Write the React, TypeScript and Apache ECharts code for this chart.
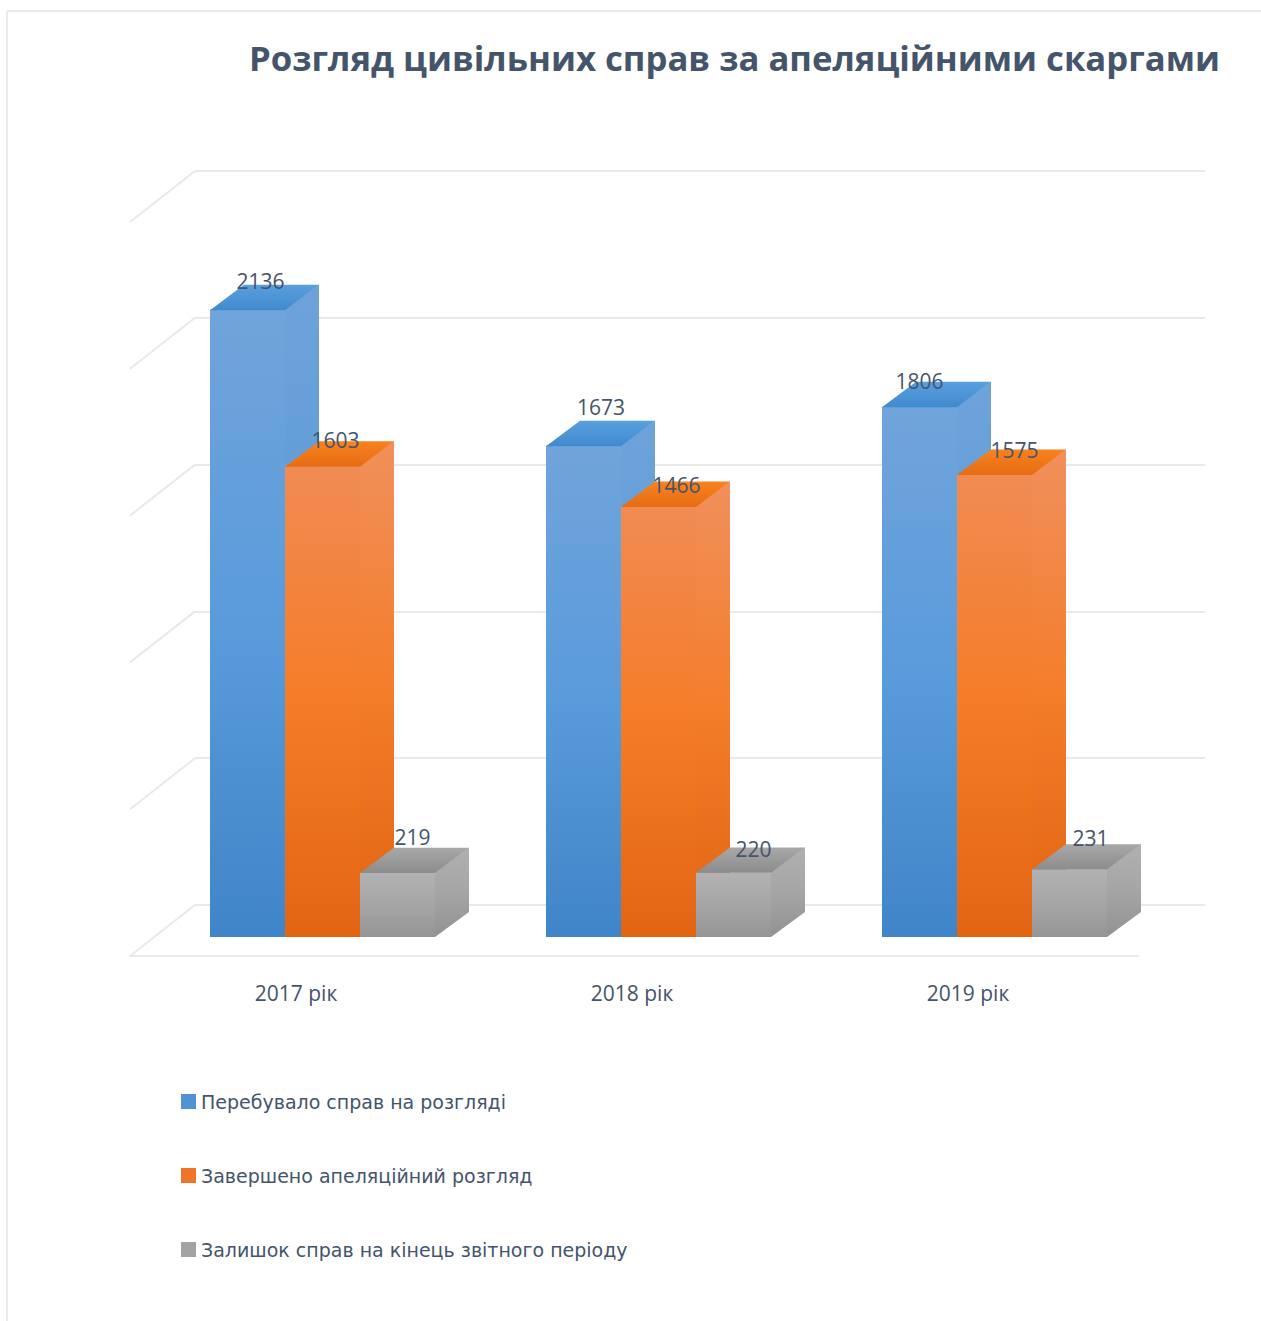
import React, { useEffect, useRef } from "react";
import * as echarts from "echarts";

const titleText = "Розгляд цивільних справ за апеляційними скаргами";
const categories = ["2017 рік", "2018 рік", "2019 рік"];
const pendingName = "Перебувало справ на розгляді";
const finishedName = "Завершено апеляційний розгляд";
const remainderName = "Залишок справ на кінець звітного періоду";
const pendingValues = [2136, 1673, 1806];
const finishedValues = [1603, 1466, 1575];
const remainderValues = [219, 220, 231];
const wallTicks = [0, 500, 1000, 1500, 2000, 2500];

const TEXT = "#44546a";
const FONT = "'Open Sans', sans-serif";
const GRID_LINE = "#e9e9e9";
const BAR_W = 75;
const DEPTH_X = 34;
const DEPTH_Y = 25;
const BASE_SHIFT_X = 24.5;
const BASE_SHIFT_Y = -19;
const SEAM = 0.4;

const grad = (stops: string[]) =>
  new echarts.graphic.LinearGradient(
    0, 0, 0, 1,
    stops.map((color, i) => ({ offset: i / (stops.length - 1), color }))
  );

type Look = { front: string[]; side: string[]; top: string[]; legend: string };
const blueLook: Look = {
  front: ["#70a4da", "#5a9bdc", "#4085c8"],
  side: ["#6ea3d9", "#5a9ada", "#3f83c5"],
  top: ["#5a9fde", "#3f8ace"],
  legend: "#4f93d6",
};
const orangeLook: Look = {
  front: ["#f08b54", "#f57c27", "#e26513"],
  side: ["#f0905c", "#f47d2a", "#df6412"],
  top: ["#f88220", "#e66c12"],
  legend: "#f07427",
};
const grayLook: Look = {
  front: ["#b2b2b2", "#a6a6a6", "#959595"],
  side: ["#b0b0b0", "#a5a5a5", "#929292"],
  top: ["#a8a8a8", "#8c8c8c"],
  legend: "#a3a3a3",
};

// hand-placed label nudges from the top-front edge of each bar: [dx, dy] per category
const pendingNudge = [[13, -29], [17.5, -39], [0, -26]];
const finishedNudge = [[13, -26], [18, -22], [20, -25]];
const remainderNudge = [[15, -36], [20, -23], [21, -31]];

const barSeries = (
  name: string,
  values: number[],
  slot: number,
  look: Look,
  nudge: number[][]
) => ({
  type: "custom",
  name,
  xAxisIndex: 0,
  yAxisIndex: 0,
  z: 5 + slot,
  clip: false,
  itemStyle: { color: look.legend },
  encode: { x: 0, y: 1 },
  data: values.map((v, i) => [i, v]),
  renderItem: (_p: any, api: any) => {
    const idx = api.value(0);
    const val = api.value(1);
    const top = api.coord([idx, val]);
    const bottom = api.coord([idx, 0]);
    const x0 = top[0] + BASE_SHIFT_X + (slot - 1) * BAR_W - BAR_W / 2;
    const x1 = x0 + BAR_W;
    const yT = top[1] + BASE_SHIFT_Y;
    const yB = bottom[1] + BASE_SHIFT_Y;
    const [dx, dy] = nudge[idx];
    return {
      type: "group",
      children: [
        {
          type: "polygon",
          shape: { points: [[x1 - SEAM, yT], [x1 + DEPTH_X - SEAM, yT - DEPTH_Y], [x1 + DEPTH_X, yT - DEPTH_Y], [x1 + DEPTH_X, yB - DEPTH_Y], [x1, yB], [x1 - SEAM, yB]] },
          style: { fill: grad(look.side) },
        },
        {
          type: "rect",
          shape: { x: x0, y: yT, width: BAR_W, height: yB - yT },
          style: { fill: grad(look.front) },
        },
        {
          type: "polygon",
          shape: { points: [[x0, yT + SEAM], [x0 + DEPTH_X, yT - DEPTH_Y], [x1 + DEPTH_X, yT - DEPTH_Y], [x1, yT + SEAM]] },
          style: { fill: grad(look.top) },
        },
        {
          type: "text",
          style: {
            x: x0 + BAR_W / 2 + dx,
            y: yT + dy,
            text: String(val),
            fill: TEXT,
            fontFamily: FONT,
            fontSize: 21,
            align: "center",
            verticalAlign: "middle",
          },
        },
      ],
    };
  },
});

const App = () => {
  const ref = useRef<HTMLDivElement>(null);
  useEffect(() => {
    const chart = echarts.init(ref.current!, null, { renderer: "svg" });
    chart.setOption({
      animation: false,
      backgroundColor: "#ffffff",
      title: {
        text: titleText,
        left: 244,
        top: 35,
        textStyle: { color: TEXT, fontFamily: FONT, fontWeight: "bold", fontSize: 34.7 },
      },
      graphic: [
        { type: "line", shape: { x1: 7, y1: 11, x2: 1261, y2: 11 }, style: { stroke: "#ebebeb", lineWidth: 2 } },
        { type: "line", shape: { x1: 7, y1: 11, x2: 7, y2: 1321 }, style: { stroke: "#ebebeb", lineWidth: 2 } },
      ],
      legend: {
        orient: "vertical",
        left: 176,
        top: 1087,
        itemWidth: 15,
        itemHeight: 15,
        itemGap: 55,
        icon: "rect",
        selectedMode: false,
        data: [pendingName, finishedName, remainderName],
        textStyle: { color: TEXT, fontFamily: "'DejaVu Sans', sans-serif", fontSize: 19, padding: [0, 0, 0, 0] },
      },
      grid: [
        { left: 130, top: 222, width: 1008, height: 734 },
        { left: 195, top: 171, width: 1010, height: 734 },
      ],
      xAxis: [
        {
          type: "category",
          gridIndex: 0,
          data: categories,
          axisTick: { show: false },
          axisLine: { lineStyle: { color: GRID_LINE, width: 2 } },
          axisLabel: { color: TEXT, fontFamily: FONT, fontSize: 21, margin: 26, padding: [0, 4, 0, 0] },
        },
        { type: "category", gridIndex: 1, data: categories, show: false },
      ],
      yAxis: [
        { type: "value", gridIndex: 0, min: 0, max: 2500, interval: 500, show: false, splitLine: { show: false } },
        {
          type: "value",
          gridIndex: 1,
          min: 0,
          max: 2500,
          interval: 500,
          axisLine: { show: false },
          axisTick: { show: false },
          axisLabel: { show: false },
          splitLine: { show: true, lineStyle: { color: GRID_LINE, width: 2 } },
        },
      ],
      series: [
        {
          type: "custom",
          name: "walls",
          xAxisIndex: 0,
          yAxisIndex: 0,
          z: 1,
          silent: true,
          clip: false,
          encode: { x: 0, y: 1 },
          data: wallTicks.map((t) => [0, t]),
          renderItem: (params: any, api: any) => {
            const p = api.coord([0, api.value(1)]);
            const x = params.coordSys.x;
            return {
              type: "line",
              shape: { x1: x, y1: p[1], x2: x + 65, y2: p[1] - 51 },
              style: { stroke: GRID_LINE, lineWidth: 2 },
            };
          },
        },
        barSeries(pendingName, pendingValues, 0, blueLook, pendingNudge),
        barSeries(finishedName, finishedValues, 1, orangeLook, finishedNudge),
        barSeries(remainderName, remainderValues, 2, grayLook, remainderNudge),
      ],
    });
    return () => chart.dispose();
  }, []);
  return <div ref={ref} style={{ position: "absolute", left: 0, top: 0, width: 1261, height: 1321 }} />;
};

export default App;
